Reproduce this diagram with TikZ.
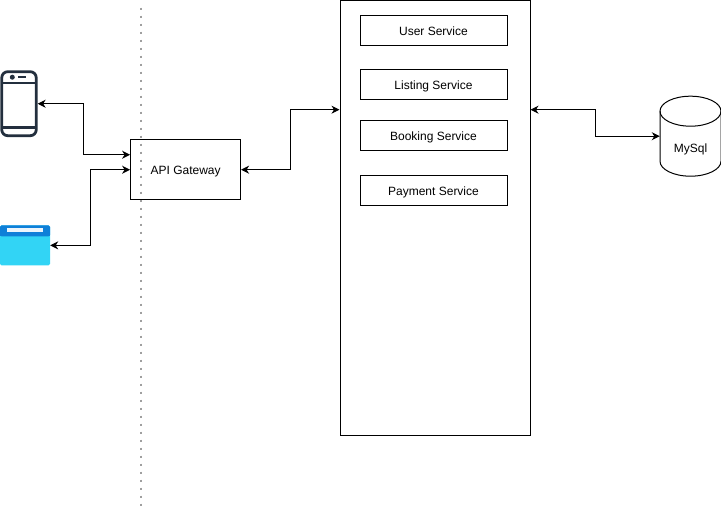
\documentclass[tikz,border=0pt]{standalone}
\usepackage{fontspec}
\setmainfont{Liberation Sans}
\usetikzlibrary{arrows.meta}
\definecolor{phonedark}{HTML}{232F3E}
\definecolor{webtop}{HTML}{0F7FD8}
\definecolor{webbody}{HTML}{32D4F5}
\tikzset{
    box/.style={draw, line width=1pt, inner sep=0pt, text height=10pt, text depth=0pt, font=\fontsize{12}{14}\selectfont},
    svcbox/.style={box, minimum width=147pt, minimum height=30pt},
    link/.style={line width=1pt, {Stealth[length=8pt,width=8pt,inset=2.5pt]}-{Stealth[length=8pt,width=8pt,inset=2.5pt]}},
}
\begin{document}
\begin{tikzpicture}[x=1pt, y=-1pt]
    \useasboundingbox (0,-0.7) rectangle (721,507.3);

    % Boundary between clients and backend
    \draw[gray!75, line width=2pt, dash pattern=on 2pt off 6pt] (140.5,7) -- (140.5,505);

    % Phone
    \node[draw=phonedark, line width=2.8pt, rounded corners=6pt, minimum width=34.5pt, minimum height=64pt, inner sep=0pt] (phone) at (19,103) {};
    \draw[phonedark, line width=2.4pt] (2,82.5) -- (36,82.5);
    \draw[phonedark, line width=2.4pt] (2,127) -- (36,127);
    \fill[phonedark] (12.3,76.5) circle (2.5pt);
    \draw[phonedark, line width=1.8pt] (18,76.5) -- (25.5,76.5);

    % Browser window
    \node[fill=webbody, rounded corners=1.5pt, minimum width=50pt, minimum height=40pt, inner sep=0pt] (browser) at (25,244.7) {};
    \fill[webtop, rounded corners=1.5pt] (0,224.7) rectangle (50,235.7);
    \fill[webtop] (0,230.7) rectangle (50,235.7);
    \fill[white!92!webtop] (7,227.7) rectangle (43,231.7);

    % Gateway and services
    \node[box, minimum width=110pt, minimum height=60pt] (gateway) at (185.6,169) {API Gateway};
    \node[box, minimum width=190pt, minimum height=435pt] (services) at (435,217.5) {};
    \node[svcbox] (user) at (433.5,30) {User Service};
    \node[svcbox] (listing) at (433.5,84) {Listing Service};
    \node[svcbox] (booking) at (433.5,135) {Booking Service};
    \node[svcbox] (payment) at (433.5,190) {Payment Service};

    % Database, label sits below the top ellipse
    \node[inner sep=0pt, minimum width=61pt, minimum height=80pt, text height=33.5pt, text depth=0pt, font=\fontsize{12}{14}\selectfont] (mysql) at (690.5,135.5) {MySql};
    \draw[line width=1pt] (660,110.5) arc[start angle=180, end angle=0, x radius=30.5pt, y radius=15pt]
        -- (721,160.5) arc[start angle=0, end angle=-180, x radius=30.5pt, y radius=15pt] -- cycle;
    \draw[line width=1pt] (660,110.5) arc[start angle=180, end angle=360, x radius=30.5pt, y radius=15pt];

    % Ports on the sides of the big boxes
    \coordinate (gateup) at ([yshift=15pt]gateway.west);
    \coordinate (svcleft) at (services.west |- 0,109);
    \coordinate (svcright) at (services.east |- 0,109);

    % Connectors
    \draw[link] (phone.east) -- (83.5,103) -- (83.5,154) -- (gateup);
    \draw[link] (browser.east) -- (90.5,244.7) -- (90.5,169) -- (gateway.west);
    \draw[link] (gateway.east) -- (290.5,169) -- (290.5,109) -- (svcleft);
    \draw[link] (svcright) -- (595.5,109) -- (595.5,135.5) -- (mysql.west);
\end{tikzpicture}
\end{document}
